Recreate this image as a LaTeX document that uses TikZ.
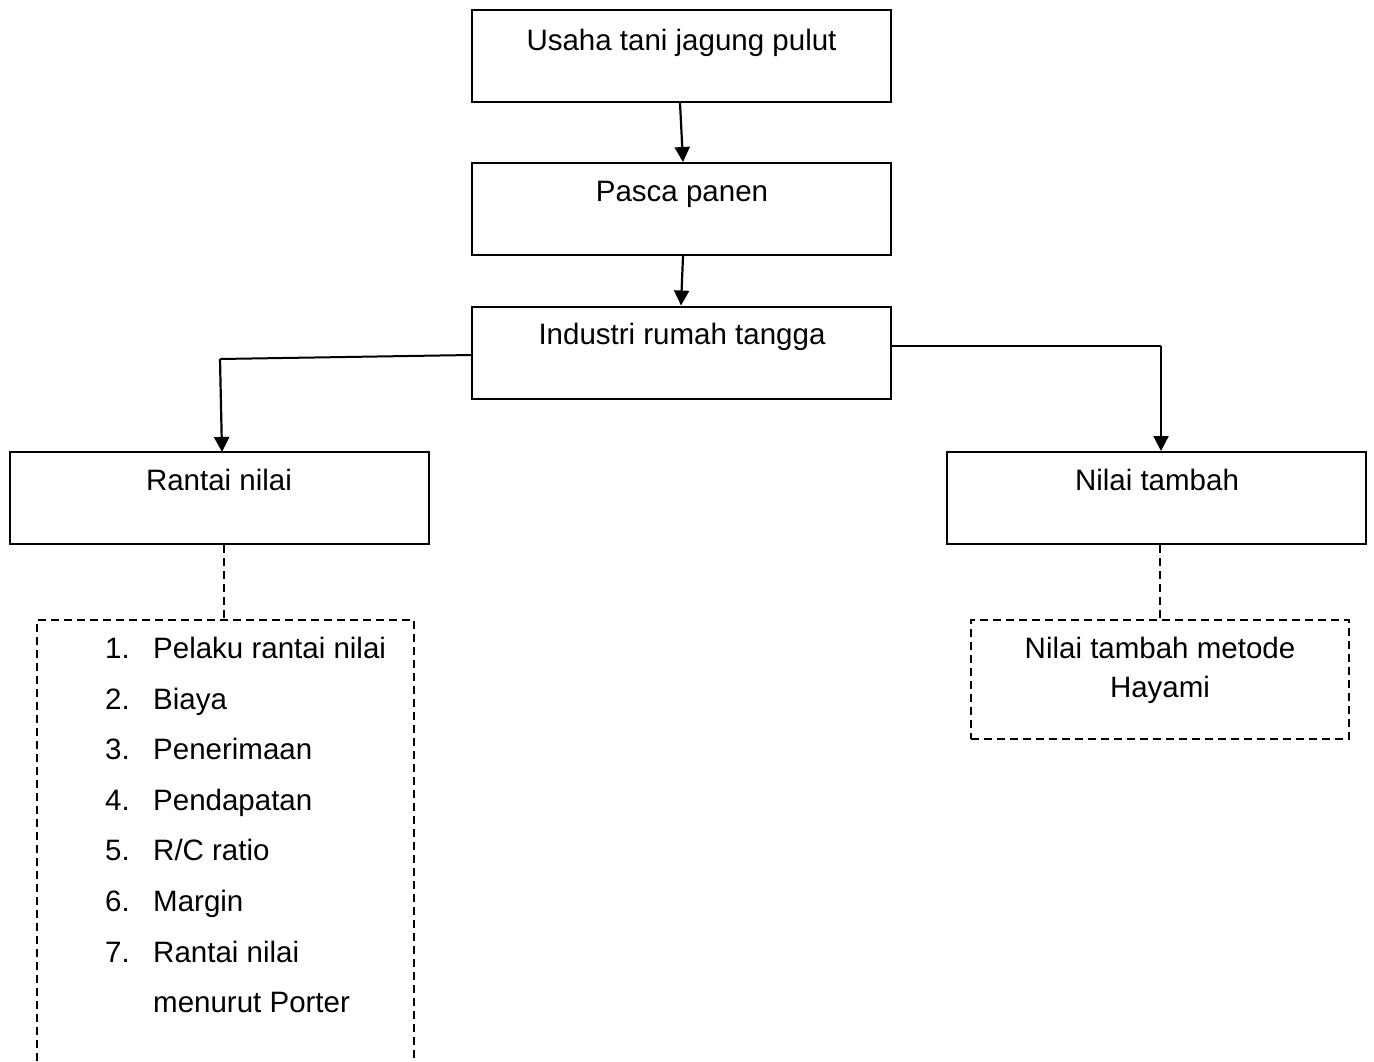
\documentclass[tikz,border=0pt]{standalone}
\usepackage{fontspec}
\setmainfont{Liberation Sans}
\usetikzlibrary{arrows.meta,calc}
\begin{document}
\begin{tikzpicture}[x=1pt,y=-1pt,
  box/.style={draw,line width=2pt,rectangle,minimum width=419pt,minimum height=92pt,inner sep=0pt},
  lbl/.style={font=\fontsize{29.5}{36}\selectfont,anchor=base,inner sep=0pt},
  item/.style={font=\fontsize{29.5}{36}\selectfont,anchor=base west,inner sep=0pt},
  arr/.style={line width=2.2pt,-{Triangle[length=15pt,width=15pt]}},
  conn/.style={line width=2pt},
  dashln/.style={line width=1.8pt,dash pattern=on 8pt off 5pt}]
\useasboundingbox (0,0) rectangle (1374,1061);
\node[box] (b1) at (681.5,56) {};
\node[box] (b2) at (681.5,209) {};
\node[box] (b3) at (681.5,352.5) {};
\node[box] (rn) at (219,498) {};
\node[box] (nt) at (1156.5,498) {};
\node[lbl] (t1) at (681.5,50) {Usaha tani jagung pulut};
\node[lbl] (t2) at (682,201) {Pasca panen};
\node[lbl] (t3) at (682,344) {Industri rumah tangga};
\node[lbl] (t4) at (219,490) {Rantai nilai};
\node[lbl] (t5) at (1157,490) {Nilai tambah};
% arrows
\draw[arr] ($(b1.south)+(-1.5,0)$) -- ($(b2.north)+(1.5,0)$);
\draw[arr] ($(b2.south)+(1.5,0)$) -- ($(b3.north)+(-0.5,0)$);
\coordinate (lc) at (220,359);
\coordinate (rc) at (1161,346);
\draw[conn] (b3.west |- 0,355) -- (lc);
\draw[arr] (lc) -- (222,452);
\draw[conn] (b3.east |- 0,346) -- (rc);
\draw[arr] (rc) -- (rc |- nt.north);
% dashed right box
\node[draw,dashln,rectangle,minimum width=378pt,minimum height=119pt,inner sep=0pt] (hb) at (1160,679.5) {};
\node[lbl] (ht1) at (1160,658) {Nilai tambah metode};
\node[lbl] (ht2) at (1160,697) {Hayami};
\draw[dashln] (nt.south -| hb.north) -- (hb.north);
% dashed left box (open at bottom)
\coordinate (lt) at (224,620);
\draw[dashln] (rn.south -| lt) -- (lt);
\draw[dashln] (37,1061) -- (37,620) -- (414,620) -- (414,1061);
\foreach \n/\t/\y in {1/Pelaku rantai nilai/658, 2/Biaya/709, 3/Penerimaan/759, 4/Pendapatan/810, 5/R\slash C ratio/860, 6/Margin/911, 7/Rantai nilai/962}{
  \node[item] (n\n) at (105,\y) {\n.};
  \node[item] (i\n) at (153,\y) {\t};
}
\node[item] (i8) at (153,1012) {menurut Porter};
\end{tikzpicture}
\end{document}
